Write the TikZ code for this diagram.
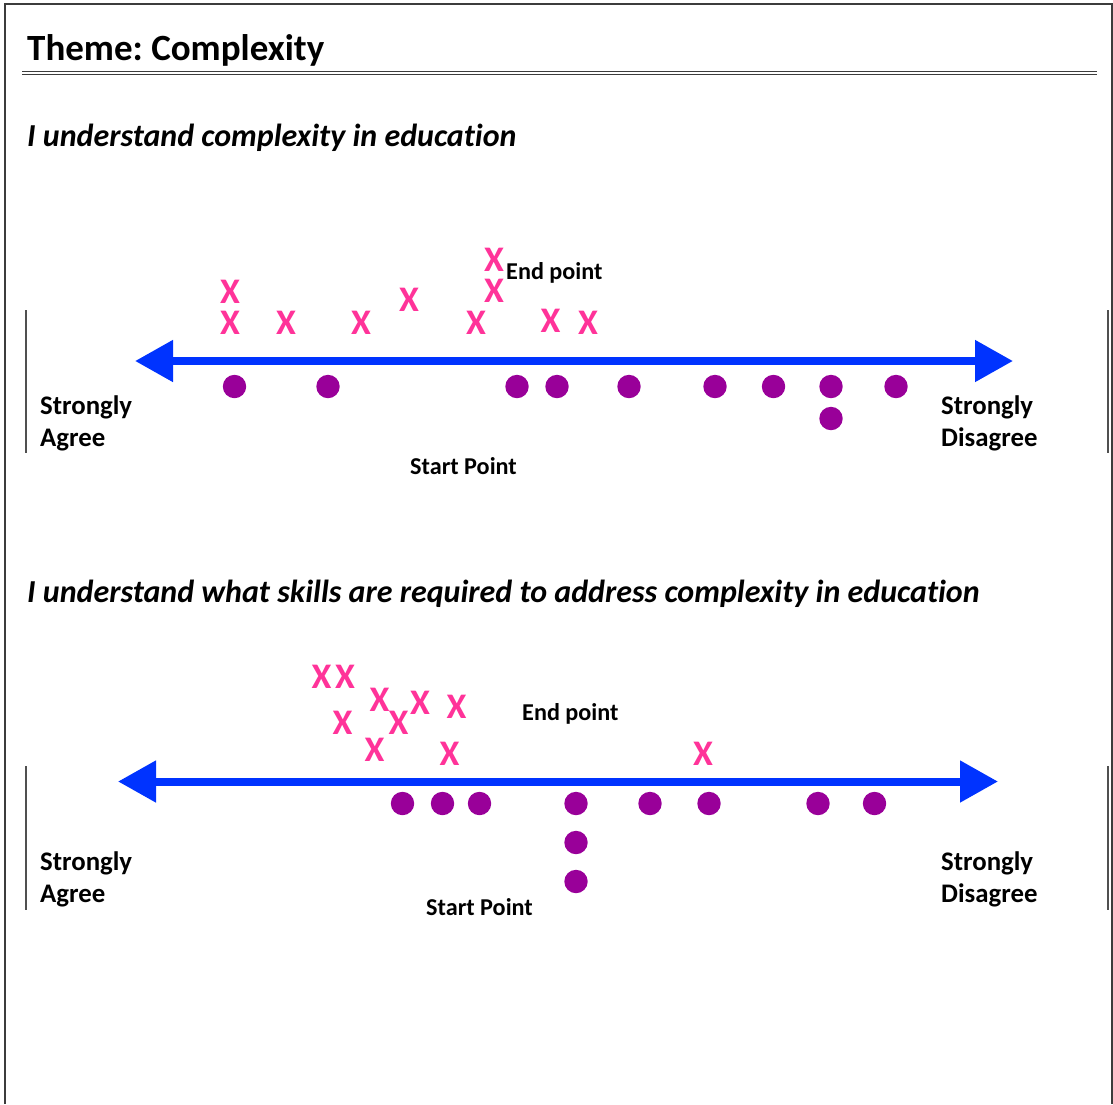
\documentclass[tikz,border=0pt]{standalone}
\usepackage{fontspec}
\setmainfont{Carlito}[Ligatures={NoCommon}]
\usetikzlibrary{arrows.meta}
\definecolor{axisblue}{RGB}{0,51,255}
\definecolor{xpink}{RGB}{255,51,153}
\definecolor{dotpurple}{RGB}{153,0,153}
\definecolor{framegray}{RGB}{60,60,60}
\frenchspacing
\begin{document}
\begin{tikzpicture}[x=1pt,y=-1pt,
  frameline/.style={draw=framegray,line width=1.5pt},
  scaleline/.style={draw=framegray!90,line width=1.5pt},
  axis/.style={draw=axisblue,line width=8pt,
     {Triangle[length=38pt,width=40pt]}-{Triangle[length=38pt,width=40pt]}},
  xmark/.style={text=xpink,font=\fontsize{36}{36}\selectfont\bfseries,inner sep=0pt,anchor=center},
  dotmark/.style={circle,fill=dotpurple,minimum size=23.4pt,inner sep=0pt},
  lbl/.style={font=\fontsize{26.8}{26.8}\selectfont\bfseries,inner sep=0pt,anchor=base west},
  ptlbl/.style={font=\fontsize{24.2}{24.2}\selectfont\bfseries,inner sep=0pt,anchor=base west},
  subtitle/.style={font=\fontsize{32}{32}\selectfont\bfseries\itshape,inner sep=0pt,anchor=base west},
  titletext/.style={font=\fontsize{37}{37}\selectfont\bfseries,inner sep=0pt,anchor=base west}
]
\useasboundingbox (0,0) rectangle (1113,1104);
% frame
\draw[frameline] (5,1104) -- (5,4) -- (1112,4) -- (1112,1104);
% title
\node[titletext] (title) at (27,60) {Theme: Complexity};
\draw[draw=framegray,line width=1.6pt] (22,71.5) -- (1097,71.5);
\draw[draw=framegray,line width=1pt] (22,74.8) -- (1097,74.8);

% ---------- section 1 ----------
\node[subtitle] (q1) at (27,146) {I understand complexity in education};
\draw[scaleline] (26,310) -- (26,453);
\draw[scaleline] (1108,310) -- (1108,453);
\coordinate (a1l) at (135,361);
\coordinate (a1r) at (1013,361);
\draw[axis] (a1l) -- (a1r);
\node[lbl] (sa1) at (40,414) {Strongly};
\node[lbl] (sa1b) at (40,446) {Agree};
\node[lbl] (sd1) at (941,414) {Strongly};
\node[lbl] (sd1b) at (941,446) {Disagree};
\node[ptlbl] (st1) at (410,474) {Start Point};
\node[ptlbl] (en1) at (506,279) {End point};
\foreach \px/\py [count=\i] in {230/292,230/323,286/323,361/323,409/300,476/323,494/291,494/260,550.5/321,588/323}
  \node[xmark] (x1-\i) at (\px,\py) {X};
\foreach \px/\py [count=\i] in {234.5/386.5,328/386.5,517/386.5,557/386.5,629/386.5,715/386.5,773.5/386.5,831/386.5,896/386.5,831/418.5}
  \node[dotmark] (d1-\i) at (\px,\py) {};

% ---------- section 2 ----------
\node[subtitle] (q2) at (27,602) {I understand what skills are required to address complexity in education};
\draw[scaleline] (26,766) -- (26,910);
\draw[scaleline] (1108,766) -- (1108,910);
\coordinate (a2l) at (118,781.5);
\coordinate (a2r) at (998,781.5);
\draw[axis] (a2l) -- (a2r);
\node[lbl] (sa2) at (40,870) {Strongly};
\node[lbl] (sa2b) at (40,902) {Agree};
\node[lbl] (sd2) at (941,870) {Strongly};
\node[lbl] (sd2b) at (941,902) {Disagree};
\node[ptlbl] (st2) at (426,915) {Start Point};
\node[ptlbl] (en2) at (522,720) {End point};
\foreach \px/\py [count=\i] in {321.5/677,345/677,379.5/700,420/703,456.5/706.5,342.5/723,398.5/723,374.5/750,449.5/753.5,703/753.5}
  \node[xmark] (x2-\i) at (\px,\py) {X};
\foreach \px/\py [count=\i] in {402.5/803.5,442.5/803.5,479.5/803.5,576/803.5,650/803.5,709/803.5,818/803.5,874.5/803.5,576/842.5,576/881.5}
  \node[dotmark] (d2-\i) at (\px,\py) {};
\end{tikzpicture}
\end{document}
